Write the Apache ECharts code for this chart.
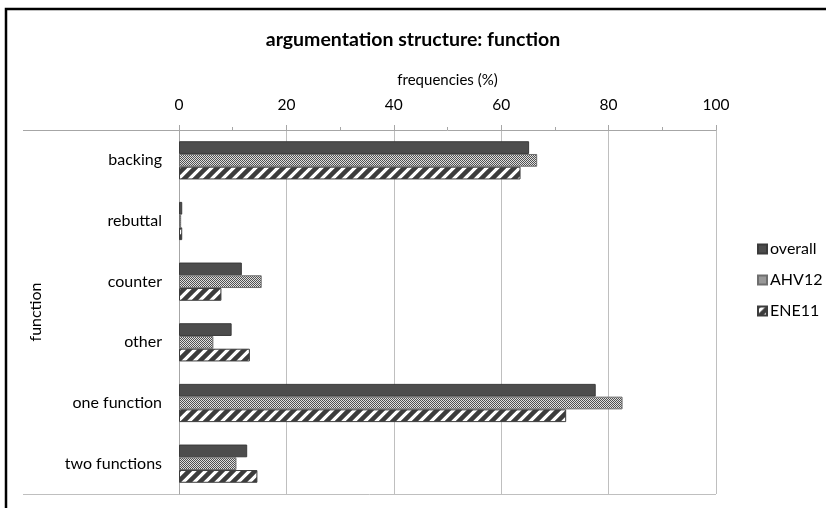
<!DOCTYPE html>
<html>
<head>
<meta charset="utf-8">
<script src="https://cdn.jsdelivr.net/npm/echarts@6/dist/echarts.min.js"></script>
<style>html,body{margin:0;padding:0;background:#fff;overflow:hidden}#c{width:826px;height:508px}</style>
</head>
<body>
<div id="c"></div>
<script>
var categories = ['backing', 'rebuttal', 'counter', 'other', 'one function', 'two functions'];
var seriesNames = ['overall', 'AHV12', 'ENE11'];
var overall = [65.2, 0.6, 11.7, 9.8, 77.6, 12.7];
var ahv12 = [66.7, 0.4, 15.4, 6.4, 82.6, 10.7];
var ene11 = [63.6, 0.6, 7.9, 13.2, 72.1, 14.6];
var xTicks = [0, 20, 40, 60, 80, 100];

var FONT = 'Lato, "Open Sans", sans-serif';

function checker() {
  var c = document.createElement('canvas'); c.width = 4; c.height = 4;
  var g = c.getContext('2d');
  g.fillStyle = '#e0e0e0'; g.fillRect(0, 0, 4, 4);
  g.fillStyle = '#505050';
  g.fillRect(0, 0, 1, 1); g.fillRect(2, 0, 1, 1);
  g.fillRect(1, 1, 1, 1); g.fillRect(3, 1, 1, 1);
  g.fillRect(0, 2, 1, 1); g.fillRect(2, 2, 1, 1);
  g.fillRect(1, 3, 1, 1); g.fillRect(3, 3, 1, 1);
  return c;
}
function stripes() {
  var s = 11;
  var c = document.createElement('canvas'); c.width = s; c.height = s;
  var g = c.getContext('2d');
  g.fillStyle = '#ffffff'; g.fillRect(0, 0, s, s);
  g.strokeStyle = '#3c3c3c'; g.lineWidth = 4.5;
  g.beginPath();
  g.moveTo(-s, 2 * s); g.lineTo(2 * s, -s);
  g.moveTo(-2 * s, 2 * s); g.lineTo(s, -s);
  g.moveTo(0, 2 * s); g.lineTo(3 * s, -s);
  g.stroke();
  return c;
}

var chart = echarts.init(document.getElementById('c'), null, {renderer: 'canvas'});
var option = {
  animation: false,
  backgroundColor: '#fff',
  textStyle: {fontFamily: FONT},
  title: {
    text: 'argumentation structure: function',
    left: 'center', top: 25,
    textStyle: {fontFamily: FONT, fontSize: 19.5, fontWeight: 'bold', color: '#000'}
  },
  legend: {
    orient: 'vertical', left: 757, top: 241, padding: 0,
    itemWidth: 9, itemHeight: 9, itemGap: 15, icon: 'rect',
    textStyle: {fontFamily: FONT, fontSize: 16, lineHeight: 16, color: '#000', padding: [0, 0, 0, -2]},
    data: seriesNames
  },
  grid: {left: 179, right: 110, top: 130, bottom: 14, containLabel: false},
  xAxis: {
    type: 'value', position: 'top', min: 0, max: 100, interval: 20,
    name: 'frequencies (%)', nameLocation: 'middle', nameGap: 42,
    nameTextStyle: {fontFamily: FONT, fontSize: 15, color: '#000'},
    axisLine: {show: true, lineStyle: {color: '#a6a6a6'}},
    axisTick: {show: true, length: 5, lineStyle: {color: '#a6a6a6'}},
    minorTick: {show: true, splitNumber: 2, length: 3, lineStyle: {color: '#a6a6a6'}},
    splitLine: {show: true, lineStyle: {color: '#bfbfbf'}},
    axisLabel: {fontFamily: FONT, fontSize: 15.5, color: '#000', margin: 17,
      formatter: function (v) { return xTicks.indexOf(v) >= 0 ? String(v) : ''; }}
  },
  yAxis: {
    type: 'category', inverse: true, data: categories,
    name: 'function', nameLocation: 'middle', nameGap: 135, nameRotate: 90,
    nameTextStyle: {fontFamily: FONT, fontSize: 16, color: '#000'},
    axisLine: {show: true, lineStyle: {color: '#a6a6a6'}},
    axisTick: {show: false},
    axisLabel: {fontFamily: FONT, fontSize: 16, color: '#000', margin: 17}
  },
  series: [
    {name: 'overall', type: 'bar', data: overall, barGap: '0%', barCategoryGap: '37%',
      itemStyle: {color: '#4d4d4d', borderColor: '#3a3a3a', borderWidth: 1}},
    {name: 'AHV12', type: 'bar', data: ahv12, barGap: '0%', barCategoryGap: '37%',
      itemStyle: {color: {image: checker(), repeat: 'repeat'}, borderColor: '#6e6e6e', borderWidth: 1}},
    {name: 'ENE11', type: 'bar', data: ene11, barGap: '0%', barCategoryGap: '37%',
      itemStyle: {color: {image: stripes(), repeat: 'repeat'}, borderColor: '#3c3c3c', borderWidth: 1}}
  ]
};
chart.setOption(option);

var grid = chart.getModel().getComponent('grid', 0).coordinateSystem.getRect();
chart.setOption({
  graphic: [
    {type: 'rect', shape: {x: 6, y: 9, width: 900, height: 600}, silent: true, z: 100,
      style: {fill: 'none', stroke: '#000', lineWidth: 2.5}},
    {type: 'line', shape: {x1: 23, y1: grid.y + 0.5, x2: grid.x, y2: grid.y + 0.5}, silent: true,
      style: {stroke: '#a6a6a6', lineWidth: 1}},
    {type: 'line', shape: {x1: 23, y1: grid.y + grid.height + 0.5, x2: grid.x + grid.width, y2: grid.y + grid.height + 0.5}, silent: true,
      style: {stroke: '#bfbfbf', lineWidth: 1}}
  ]
});
</script>
</body>
</html>
